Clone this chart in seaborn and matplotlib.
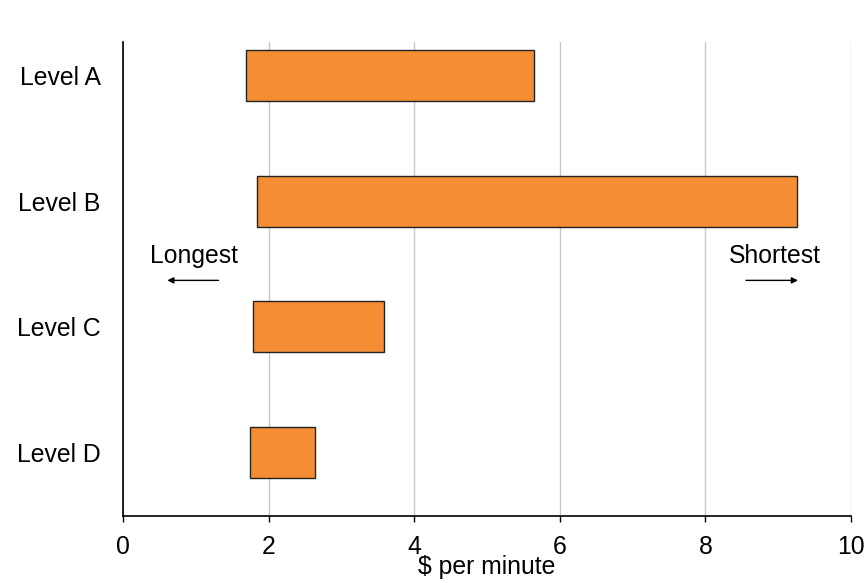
import pandas as pd
import matplotlib
matplotlib.use("Agg")
import matplotlib.pyplot as plt
import seaborn as sns

# data
levels = ["Level A", "Level B", "Level C", "Level D"]
start_vals = [1.69, 1.845, 1.785, 1.75]
end_vals = [5.645, 9.26, 3.58, 2.635]
x_ticks = [0, 2, 4, 6, 8, 10]

df = pd.DataFrame({"level": levels, "start": start_vals, "end": end_vals})
df["span"] = df["end"] - df["start"]

sns.set_theme(style="white")
plt.rcParams["font.family"] = ["Liberation Sans", "DejaVu Sans"]
FS = 17.8

fig = plt.figure(figsize=(8.67, 5.83), dpi=100)
ax = fig.add_axes([0.1419, 0.1149, 0.8396, 0.8131])

# floating bars: seaborn passes "left" straight through to barh
sns.barplot(
    data=df, x="span", y="level", order=levels, ax=ax,
    left=df["start"].to_numpy(), color="#F58D35", saturation=1,
    edgecolor="#222222", linewidth=1.0, width=0.406, errorbar=None,
)

ax.set_xlim(0, 10)
ax.set_ylim(3.505, -0.267)
ax.set_xticks(x_ticks)
ax.set_xticklabels([str(t) for t in x_ticks], fontsize=FS)
ax.tick_params(axis="x", bottom=True, length=4, width=1, color="black", pad=10)
ax.tick_params(axis="y", left=False, length=0, pad=16, labelsize=FS)
ax.set_xlabel("$ per minute", fontsize=FS, labelpad=-3, color="black")
ax.set_ylabel("")
for lab in ax.get_xticklabels() + ax.get_yticklabels():
    lab.set_color("black")

ax.xaxis.grid(True, color="#c4c8cc", linewidth=1.0)
ax.yaxis.grid(False)
ax.set_axisbelow(True)
for side in ["top", "right"]:
    ax.spines[side].set_visible(False)
for side in ["left", "bottom"]:
    ax.spines[side].set_color("black")
    ax.spines[side].set_linewidth(1.2)

# direction hints
ax.text(0.98, 1.436, "Longest", ha="center", va="center", fontsize=FS, color="black")
ax.annotate("", xy=(0.57, 1.63), xytext=(1.35, 1.63),
            arrowprops=dict(arrowstyle="-|>", color="black", lw=1, mutation_scale=9))
ax.text(8.95, 1.436, "Shortest", ha="center", va="center", fontsize=FS, color="black")
ax.annotate("", xy=(9.31, 1.63), xytext=(8.52, 1.63),
            arrowprops=dict(arrowstyle="-|>", color="black", lw=1, mutation_scale=9))

fig.savefig("out.png", dpi=100)
